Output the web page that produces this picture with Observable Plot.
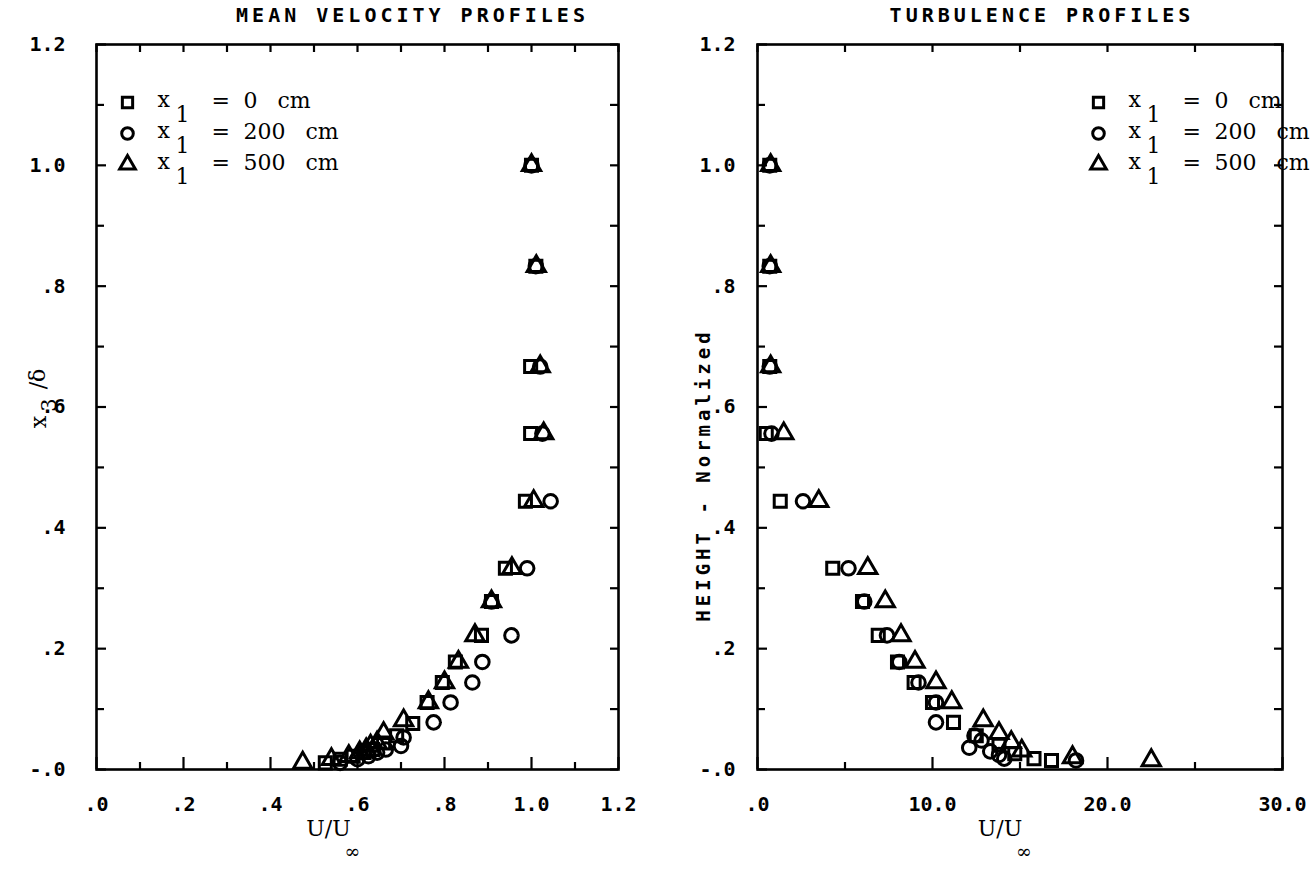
<!DOCTYPE html>
<html><head><meta charset="utf-8">
<script src="https://cdn.jsdelivr.net/npm/d3@7"></script>
<script src="https://cdn.jsdelivr.net/npm/@observablehq/plot@0.6"></script>
<style>
body{margin:0;background:#fff;}
#wrap{position:relative;width:1316px;height:871px;overflow:hidden;background:#fff;}
#left{position:absolute;left:0;top:0;}
#right{position:absolute;left:660px;top:0;}
svg text{white-space:pre;}
</style></head><body><div id="wrap"><div id="left"></div><div id="right"></div></div>
<script>
// ---- data ----
const seriesNames = ["0", "200", "500"];
const seriesSymbols = ["square", "circle", "triangle"];

// Mean velocity: height x3/delta and U/Uinf per station
const meanH0 = [1.0, 0.833, 0.667, 0.556, 0.444, 0.333, 0.278, 0.222, 0.178, 0.144, 0.111, 0.076, 0.056, 0.044, 0.033, 0.028, 0.022, 0.017, 0.011];
const meanU0 = [1.0, 1.01, 0.998, 0.998, 0.986, 0.94, 0.908, 0.885, 0.825, 0.795, 0.76, 0.727, 0.69, 0.66, 0.635, 0.615, 0.59, 0.56, 0.526];
const meanH200 = [1.0, 0.833, 0.667, 0.556, 0.444, 0.333, 0.278, 0.222, 0.178, 0.144, 0.111, 0.078, 0.053, 0.039, 0.033, 0.028, 0.022, 0.017, 0.011];
const meanU200 = [1.0, 1.01, 1.02, 1.025, 1.044, 0.99, 0.908, 0.954, 0.887, 0.864, 0.814, 0.775, 0.706, 0.70, 0.665, 0.645, 0.625, 0.60, 0.56];
const meanH500 = [1.0, 0.833, 0.667, 0.556, 0.444, 0.333, 0.278, 0.222, 0.178, 0.144, 0.111, 0.081, 0.06, 0.044, 0.039, 0.033, 0.028, 0.022, 0.017, 0.011];
const meanU500 = [1.0, 1.011, 1.02, 1.028, 1.005, 0.955, 0.908, 0.87, 0.832, 0.80, 0.763, 0.706, 0.66, 0.645, 0.63, 0.62, 0.605, 0.58, 0.54, 0.474];

// Turbulence profiles
const turbH0 = [1.0, 0.833, 0.667, 0.556, 0.444, 0.333, 0.278, 0.222, 0.178, 0.144, 0.111, 0.078, 0.056, 0.040, 0.026, 0.018, 0.015];
const turbU0 = [0.7, 0.7, 0.7, 0.5, 1.3, 4.3, 6.0, 6.9, 8.0, 8.95, 10.0, 11.2, 12.5, 13.8, 14.7, 15.8, 16.8];
const turbH200 = [1.0, 0.833, 0.667, 0.556, 0.444, 0.333, 0.278, 0.222, 0.178, 0.144, 0.111, 0.078, 0.056, 0.048, 0.036, 0.030, 0.024, 0.018, 0.015];
const turbU200 = [0.7, 0.7, 0.7, 0.8, 2.6, 5.2, 6.1, 7.4, 8.1, 9.2, 10.2, 10.2, 12.4, 12.8, 12.1, 13.3, 13.8, 14.1, 18.2];
const turbH500 = [1.0, 0.833, 0.667, 0.556, 0.444, 0.333, 0.278, 0.222, 0.178, 0.144, 0.111, 0.081, 0.06, 0.045, 0.031, 0.02, 0.015];
const turbU500 = [0.75, 0.75, 0.75, 1.5, 3.5, 6.3, 7.3, 8.2, 9.0, 10.2, 11.1, 12.9, 13.8, 14.5, 15.1, 18.0, 22.5];

// tick values
const yMajor = [0, 0.2, 0.4, 0.6, 0.8, 1.0, 1.2];
const yMinor = [0.1, 0.3, 0.5, 0.7, 0.9, 1.1];
const yAll = [0, 0.1, 0.2, 0.3, 0.4, 0.5, 0.6, 0.7, 0.8, 0.9, 1.0, 1.1, 1.2];
const meanXMajor = [0, 0.2, 0.4, 0.6, 0.8, 1.0, 1.2];
const meanXMinor = [0.1, 0.3, 0.5, 0.7, 0.9, 1.1];
const turbXMajor = [0, 10, 20, 30];
const turbXMinor = [5, 15, 25];
const turbXAll = [0, 5, 10, 15, 20, 25, 30];

const titles = ["MEAN VELOCITY PROFILES", "TURBULENCE PROFILES"];
const yTitleRight = "HEIGHT - Normalized";

// ---- helpers ----
function rows(hs, us, name) { return hs.map((h, i) => ({h, u: us[i], station: name})); }
const meanRows = [...rows(meanH0, meanU0, "0"), ...rows(meanH200, meanU200, "200"), ...rows(meanH500, meanU500, "500")];
const turbRows = [...rows(turbH0, turbU0, "0"), ...rows(turbH200, turbU200, "200"), ...rows(turbH500, turbU500, "500")];

const tickFont = "DejaVu Sans Mono";
const typeFont = "DejaVu Serif";
const fmtY = d => d === 0 ? "-.0" : d.toFixed(1).replace(/^0/, "");
const fmtX = d => d === 0 ? ".0" : (d < 1.5 ? d.toFixed(1).replace(/^0/, "") : d.toFixed(1));

function tickMarks(xMaj, xMin, xTop, W, H) {
  const s = {stroke: "#000", strokeWidth: 2.2};
  return [
    Plot.ruleX(xMaj, {x: d => d, insetTop: H - 12, ...s}),
    Plot.ruleX(xMin, {x: d => d, insetTop: H - 7, ...s}),
    Plot.ruleX(xTop, {x: d => d, insetBottom: H - 8, ...s}),
    Plot.ruleY(yMajor, {y: d => d, insetRight: W - 10, ...s}),
    Plot.ruleY(yMinor, {y: d => d, insetRight: W - 8, ...s}),
    Plot.ruleY(yAll, {y: d => d, insetLeft: W - 8, ...s})
  ];
}

function txt(s, o) {
  return Plot.text([s], {text: d => d, fill: "#000", fontFamily: typeFont, fontWeight: "normal", fontSize: 22, lineAnchor: "middle", ...o});
}

function legendMarks(symDx) {
  const m = [];
  seriesNames.forEach((name, i) => {
    const dy = 58 + 31 * i;
    const base = {frameAnchor: "top-left", textAnchor: "start"};
    m.push(Plot.dot([name], {frameAnchor: "top-left", dx: symDx, dy, symbol: d => d, r: 5.8, stroke: "#000", strokeWidth: 3, fill: "none"}));
    m.push(txt("x", {...base, dx: symDx + 30, dy: dy - 3}));
    m.push(txt("1", {...base, dx: symDx + 48, dy: dy + 12}));
    m.push(txt("=", {...base, dx: symDx + 84, dy: dy - 2}));
    m.push(txt(name, {...base, dx: symDx + 116, dy: dy - 2}));
    m.push(txt("cm", {...base, dx: symDx + 116 + 14 * name.length + 20, dy: dy - 2}));
  });
  return m;
}

function chart({rowsData, xDomain, xMaj, xMin, xTop, width, marginLeft, marginRight, title, titleDx, yPad, legendDx, xLabelDx, yLabelMarks}) {
  const marginTop = 44, marginBottom = 102, height = 871;
  const W = width - marginLeft - marginRight, H = height - marginTop - marginBottom;
  const svg = Plot.plot({
    width, height, marginTop, marginBottom, marginLeft, marginRight,
    style: {fontFamily: tickFont, fontSize: "20px", fontWeight: "bold", color: "#000", background: "transparent", overflow: "visible"},
    x: {domain: xDomain},
    y: {domain: [0, 1.2]},
    symbol: {domain: seriesNames, range: seriesSymbols},
    marks: [
      Plot.frame({stroke: "#000", strokeWidth: 2.6}),
      ...tickMarks(xMaj, xMin, xTop, W, H),
      Plot.axisX({ticks: xMaj, tickSize: 0, tickPadding: 27, tickFormat: fmtX, label: null, fontWeight: "bold", fontSize: 20}),
      Plot.axisY({ticks: yMajor, tickSize: 0, tickPadding: yPad, tickFormat: fmtY, label: null, fontWeight: "bold", fontSize: 20}),
      Plot.dot(rowsData, {x: "u", y: "h", symbol: "station", r: 6.8, stroke: "#000", strokeWidth: 3, fill: "none"}),
      ...legendMarks(legendDx),
      txt(title, {frameAnchor: "top", textAnchor: "middle", dx: titleDx, dy: -29, fontFamily: tickFont, fontWeight: "bold", fontSize: 20}),
      txt("U/U", {frameAnchor: "bottom", textAnchor: "middle", dx: xLabelDx, dy: 59, fontSize: 22}),
      txt("\u221E", {frameAnchor: "bottom", textAnchor: "middle", dx: xLabelDx + 24, dy: 82, fontSize: 19}),
      ...yLabelMarks
    ]
  });
  d3.select(svg).selectAll("text").each(function() {
    if (this.textContent === title) this.style.letterSpacing = "4px";
    if (this.textContent === yTitleRight) this.style.letterSpacing = "4px";
  });
  return svg;
}

const leftYLabel = [
  txt("x", {frameAnchor: "left", textAnchor: "middle", dx: -58, dy: 15, rotate: -90}),
  txt("3", {frameAnchor: "left", textAnchor: "middle", dx: -47, dy: -2, rotate: -90, fontSize: 21}),
  txt("/\u03B4", {frameAnchor: "left", textAnchor: "middle", dx: -59, dy: -28, rotate: -90})
];
const rightYLabel = [
  txt(yTitleRight, {frameAnchor: "left", textAnchor: "middle", dx: -54, dy: 68, rotate: -90, fontFamily: tickFont, fontSize: 19, fontWeight: "bold"})
];

document.getElementById("left").append(chart({
  rowsData: meanRows, xDomain: [0, 1.2], xMaj: meanXMajor, xMin: meanXMinor, xTop: [...meanXMajor, ...meanXMinor],
  width: 660, marginLeft: 96, marginRight: 42, title: titles[0], titleDx: 55, yPad: 31, legendDx: 31, xLabelDx: -29, yLabelMarks: leftYLabel
}));
document.getElementById("right").append(chart({
  rowsData: turbRows, xDomain: [0, 30], xMaj: turbXMajor, xMin: turbXMinor, xTop: turbXAll,
  width: 656, marginLeft: 97, marginRight: 34, title: titles[1], titleDx: 22, yPad: 22, legendDx: 341, xLabelDx: -20, yLabelMarks: rightYLabel
}));
</script></body></html>
